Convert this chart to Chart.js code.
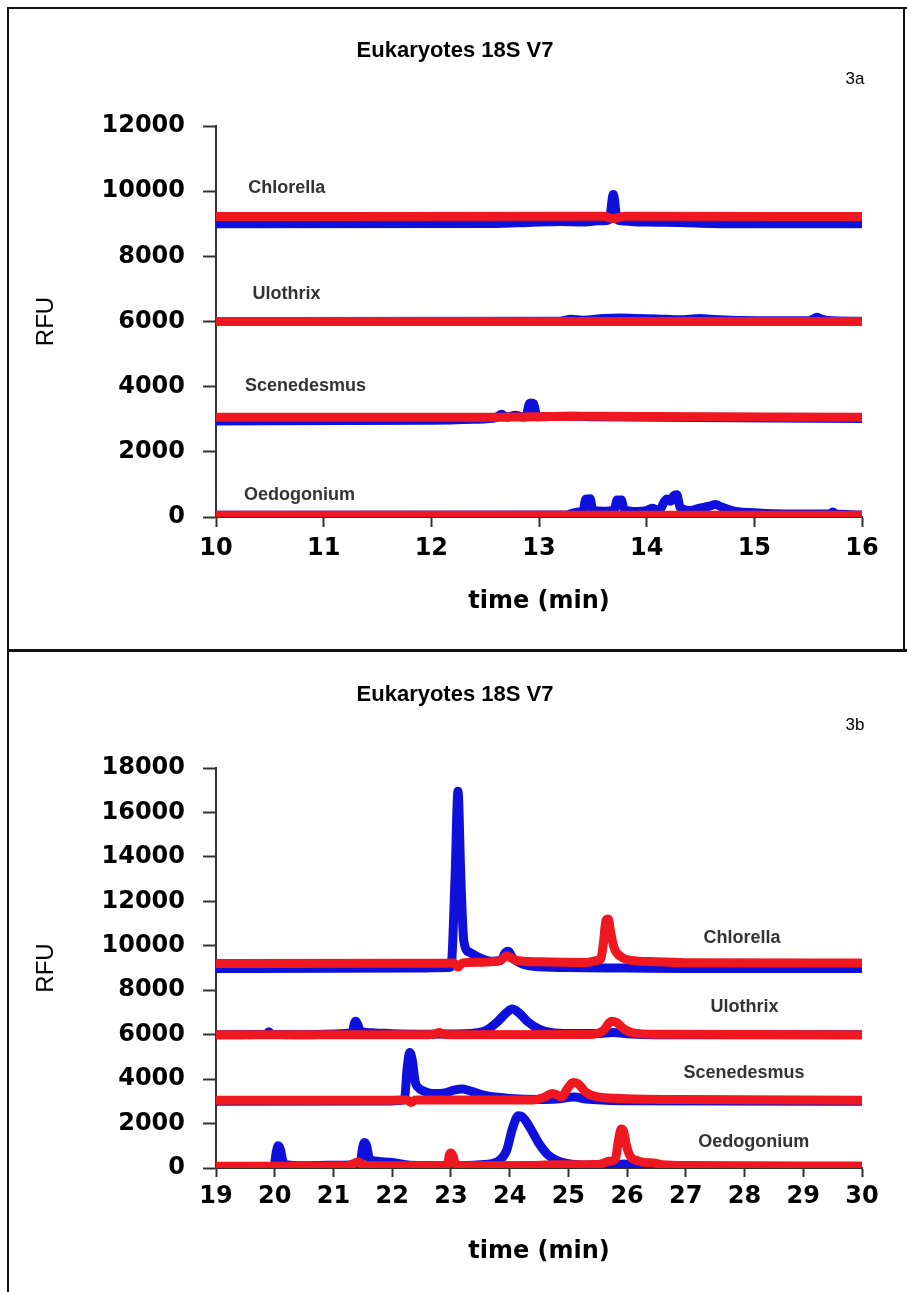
<!DOCTYPE html>
<html>
<head>
<meta charset="utf-8">
<script src="https://cdn.jsdelivr.net/npm/chart.js@4.4.1/dist/chart.umd.min.js"></script>
<style>
  html, body { margin: 0; padding: 0; background: #fff; }
  body { width: 907px; height: 1292px; position: relative; overflow: hidden; }
  .panel { position: absolute; left: 0; width: 907px; }
  #panelA { top: 0; height: 650px; }
  #panelB { top: 650px; height: 642px; }
  .rule { position: absolute; background: #111; }
</style>
</head>
<body>
<div class="panel" id="panelA"><canvas id="chartA"></canvas></div>
<div class="panel" id="panelB"><canvas id="chartB"></canvas></div>
<div class="rule" style="left:7px;top:7px;width:900px;height:2px"></div>
<div class="rule" style="left:7px;top:7px;width:2px;height:1285px"></div>
<div class="rule" style="left:7px;top:649px;width:900px;height:3px"></div>
<div class="rule" style="left:903px;top:7px;width:2px;height:643px"></div>
<script>
const TITLE = `Eukaryotes 18S V7`
const SPECIES = [`Chlorella`, `Ulothrix`, `Scenedesmus`, `Oedogonium`]
const COLORS = {
  blue: `#1010dc`,
  red: `#f01820`,
  axis: `#333`
}

// panel 3a : time (min) vs RFU, 10-16 min
const ticksA = { min: 10, max: 16, step: 1, yMax: 12000, yStep: 2000 }
const chlorellaBlueA = [[10,9000],[12.6,9010],[12.9,9040],[13.2,9070],[13.4,9050],[13.55,9090],[13.63,9100],[13.655,9150],[13.69,9900],[13.725,9150],[13.75,9100],[13.85,9070],[14.0,9050],[14.3,9040],[14.6,9010],[15,9000],[16,9000]]
const chlorellaRedA = [[10,9220],[13.6,9230],[13.69,9160],[13.8,9230],[16,9220]]
const ulothrixBlueA = [[10,6000],[13.2,6010],[13.3,6070],[13.4,6040],[13.6,6090],[13.75,6110],[13.9,6090],[14.1,6080],[14.3,6050],[14.5,6090],[14.6,6070],[14.9,6030],[15.5,6020],[15.55,6080],[15.58,6130],[15.62,6080],[15.68,6030],[16,6010]]
const ulothrixRedA = [[10,6000],[16,6000]]
const scenedesmusBlueA = [[10,2950],[12.0,2970],[12.4,3000],[12.6,3050],[12.65,3150],[12.7,3060],[12.78,3120],[12.85,3070],[12.88,3080],[12.91,3480],[12.93,3500],[12.95,3480],[12.98,3080],[13.3,3090],[13.5,3080],[16,3020]]
const scenedesmusRedA = [[10,3060],[12.4,3060],[13.0,3080],[13.5,3090],[16,3060]]
const oedogoniumBlueA = [[10,50],[13.25,60],[13.35,150],[13.41,200],[13.435,550],[13.475,560],[13.5,200],[13.6,180],[13.7,230],[13.725,520],[13.765,520],[13.79,230],[13.9,170],[14.0,200],[14.05,270],[14.1,220],[14.13,250],[14.16,450],[14.19,550],[14.22,480],[14.25,650],[14.28,680],[14.31,300],[14.4,200],[14.5,280],[14.58,330],[14.64,380],[14.7,300],[14.77,220],[14.85,160],[15.0,130],[15.1,110],[15.5,90],[15.7,90],[15.73,150],[15.76,90],[16,60]]
const oedogoniumRedA = [[10,50],[16,50]]
const namePosA = [[10.3,10100],[10.34,6850],[10.27,4010],[10.26,670]]

// panel 3b : time (min) vs RFU, 19-30 min
const ticksB = { min: 19, max: 30, step: 1, yMax: 18000, yStep: 2000 }
const chlorellaBlueB = [[19,8980],[22.5,9000],[22.9,9020],[23.0,9050],[23.07,13000],[23.12,16950],[23.17,13000],[23.22,10200],[23.32,9700],[23.5,9450],[23.7,9300],[23.85,9350],[23.93,9700],[23.98,9750],[24.05,9450],[24.2,9200],[24.4,9080],[25,9020],[26,9000],[27,8980],[30,8980]]
const chlorellaRedB = [[19,9200],[22.9,9210],[23.05,9230],[23.12,9050],[23.2,9230],[23.5,9260],[23.85,9350],[23.95,9550],[24.0,9500],[24.1,9350],[24.5,9280],[25.3,9250],[25.5,9350],[25.55,9400],[25.6,10200],[25.64,11150],[25.68,11200],[25.72,10600],[25.78,9900],[25.9,9500],[26.0,9380],[26.5,9280],[27,9240],[30,9220]]
const ulothrixBlueB = [[19,6000],[19.85,6020],[19.9,6130],[19.95,6020],[20.5,6000],[21.0,6030],[21.25,6060],[21.32,6080],[21.355,6500],[21.38,6600],[21.415,6450],[21.46,6150],[21.7,6080],[22.0,6040],[22.6,6020],[23.0,6030],[23.3,6050],[23.6,6200],[23.8,6600],[23.95,7000],[24.04,7150],[24.15,7000],[24.3,6600],[24.5,6250],[24.7,6100],[25,6050],[25.5,6050],[25.75,6100],[26,6040],[26.5,6000],[30,6000]]
const ulothrixRedB = [[19,6000],[22.6,6000],[22.75,6050],[22.8,6100],[22.87,6030],[23,6000],[25.4,6010],[25.6,6200],[25.73,6600],[25.82,6550],[25.95,6250],[26.1,6080],[26.5,6020],[30,6000]]
const scenedesmusBlueB = [[19,3000],[22.0,3020],[22.15,3050],[22.21,3100],[22.255,4500],[22.3,5200],[22.345,4800],[22.39,3900],[22.45,3600],[22.55,3450],[22.7,3350],[22.9,3380],[23.05,3500],[23.2,3550],[23.35,3450],[23.6,3250],[24.0,3130],[24.5,3080],[24.8,3100],[25.1,3200],[25.3,3100],[26,3030],[30,3000]]
const scenedesmusRedB = [[19,3050],[22.0,3050],[22.25,3060],[22.32,2950],[22.4,3060],[24.4,3060],[24.6,3200],[24.72,3350],[24.8,3300],[24.88,3200],[24.98,3550],[25.08,3850],[25.16,3800],[25.3,3400],[25.5,3200],[26,3120],[27,3080],[30,3050]]
const oedogoniumBlueB = [[19,60],[19.95,60],[19.99,100],[20.025,700],[20.06,1000],[20.095,850],[20.14,300],[20.2,150],[20.5,100],[20.9,120],[21.3,130],[21.46,300],[21.495,900],[21.53,1150],[21.565,1000],[21.61,450],[21.7,320],[22.0,250],[22.3,120],[23.0,100],[23.5,150],[23.8,300],[23.95,800],[24.05,1800],[24.15,2350],[24.22,2300],[24.35,1800],[24.5,1100],[24.65,600],[24.8,350],[25,200],[25.4,120],[25.8,150],[25.95,180],[26.1,120],[26.5,80],[30,60]]
const oedogoniumRedB = [[19,80],[21.2,90],[21.35,200],[21.42,280],[21.5,150],[21.7,100],[22.9,100],[22.94,150],[22.975,600],[23.0,680],[23.035,550],[23.08,150],[23.3,100],[24.4,110],[24.8,150],[25.5,160],[25.7,300],[25.8,400],[25.85,1200],[25.9,1750],[25.94,1650],[25.99,1000],[26.06,500],[26.15,350],[26.3,250],[26.45,230],[26.6,150],[27,110],[30,90]]
const namePosB = [[27.3,10340],[27.42,7235],[26.96,4270],[27.21,1170]]

const FONT = `"DejaVu Sans"`
const ARIAL = `"Liberation Sans"`

const trace = (points, color, order) => ({
  data: points.map(([x, y]) => ({ x, y })),
  borderColor: color,
  borderWidth: 9,
  pointRadius: 0,
  cubicInterpolationMode: `monotone`,
  fill: false,
  order
})

const panelText = (title, tag, namePos, layout) => ({
  id: `panelText`,
  afterDatasetsDraw(chart) {
    const { ctx, scales: { x, y } } = chart
    ctx.save()
    ctx.textBaseline = `middle`
    ctx.textAlign = `center`
    ctx.fillStyle = `#000`
    ctx.font = `bold 22px ${ARIAL}`
    ctx.fillText(title, layout.titleX, layout.titleY)
    ctx.font = `17px ${ARIAL}`
    ctx.fillText(tag, layout.tagX, layout.tagY)
    ctx.textAlign = `left`
    ctx.fillStyle = `#333`
    ctx.font = `bold 18px ${ARIAL}`
    SPECIES.forEach((name, i) => {
      ctx.fillText(name, x.getPixelForValue(namePos[i][0]), y.getPixelForValue(namePos[i][1]))
    })
    ctx.restore()
  }
})

const makeChart = (id, ticks, traces, text, geom) => {
  const tickFont = { family: FONT, size: 24, weight: `bold` }
  return new Chart(document.getElementById(id), {
    type: `line`,
    data: {
      datasets: [
        ...traces.map(([b]) => trace(b, COLORS.blue, 2)),
        ...traces.map(([, r]) => trace(r, COLORS.red, 1))
      ]
    },
    options: {
      responsive: true,
      maintainAspectRatio: false,
      animation: false,
      events: [],
      layout: { padding: { top: geom.top, right: 45, left: 0, bottom: 0 } },
      plugins: { legend: { display: false }, tooltip: { enabled: false } },
      scales: {
        x: {
          type: `linear`,
          min: ticks.min,
          max: ticks.max,
          ticks: { stepSize: ticks.step, color: `#000`, font: tickFont, padding: geom.xPad, maxRotation: 0, callback: v => String(v) },
          grid: { drawOnChartArea: false, tickLength: geom.xTick, tickColor: COLORS.axis, tickWidth: 2 },
          border: { color: COLORS.axis, width: 2 },
          title: { display: true, text: `time (min)`, color: `#000`, font: { family: FONT, size: 24, weight: `bold` }, padding: { top: 0, bottom: geom.xTitlePad } },
          afterFit: s => { s.height = geom.xHeight }
        },
        y: {
          min: 0,
          max: ticks.yMax,
          ticks: { stepSize: ticks.yStep, color: `#000`, font: tickFont, padding: 18, callback: v => String(v) },
          grid: { drawOnChartArea: false, tickLength: 13, tickColor: COLORS.axis, tickWidth: 2 },
          border: { color: COLORS.axis, width: 2 },
          title: { display: true, text: `RFU`, color: `#000`, font: { family: ARIAL, size: 24 }, padding: { top: 32, bottom: 0 } },
          afterFit: s => { s.width = 216 }
        }
      }
    },
    plugins: [panelText(TITLE, text.tag, text.namePos, text)]
  })
}

makeChart(`chartA`, ticksA, [
  [chlorellaBlueA, chlorellaRedA],
  [ulothrixBlueA, ulothrixRedA],
  [scenedesmusBlueA, scenedesmusRedA],
  [oedogoniumBlueA, oedogoniumRedA]
], { tag: `3a`, namePos: namePosA, titleX: 455, titleY: 51, tagX: 855, tagY: 79 },
   { top: 126, xHeight: 133, xTick: 10, xPad: 7, xTitlePad: 34 })

makeChart(`chartB`, ticksB, [
  [chlorellaBlueB, chlorellaRedB],
  [ulothrixBlueB, ulothrixRedB],
  [scenedesmusBlueB, scenedesmusRedB],
  [oedogoniumBlueB, oedogoniumRedB]
], { tag: `3b`, namePos: namePosB, titleX: 455, titleY: 45, tagX: 855, tagY: 75 },
   { top: 118, xHeight: 124, xTick: 9, xPad: 5, xTitlePad: 26 })
</script>
</body>
</html>
